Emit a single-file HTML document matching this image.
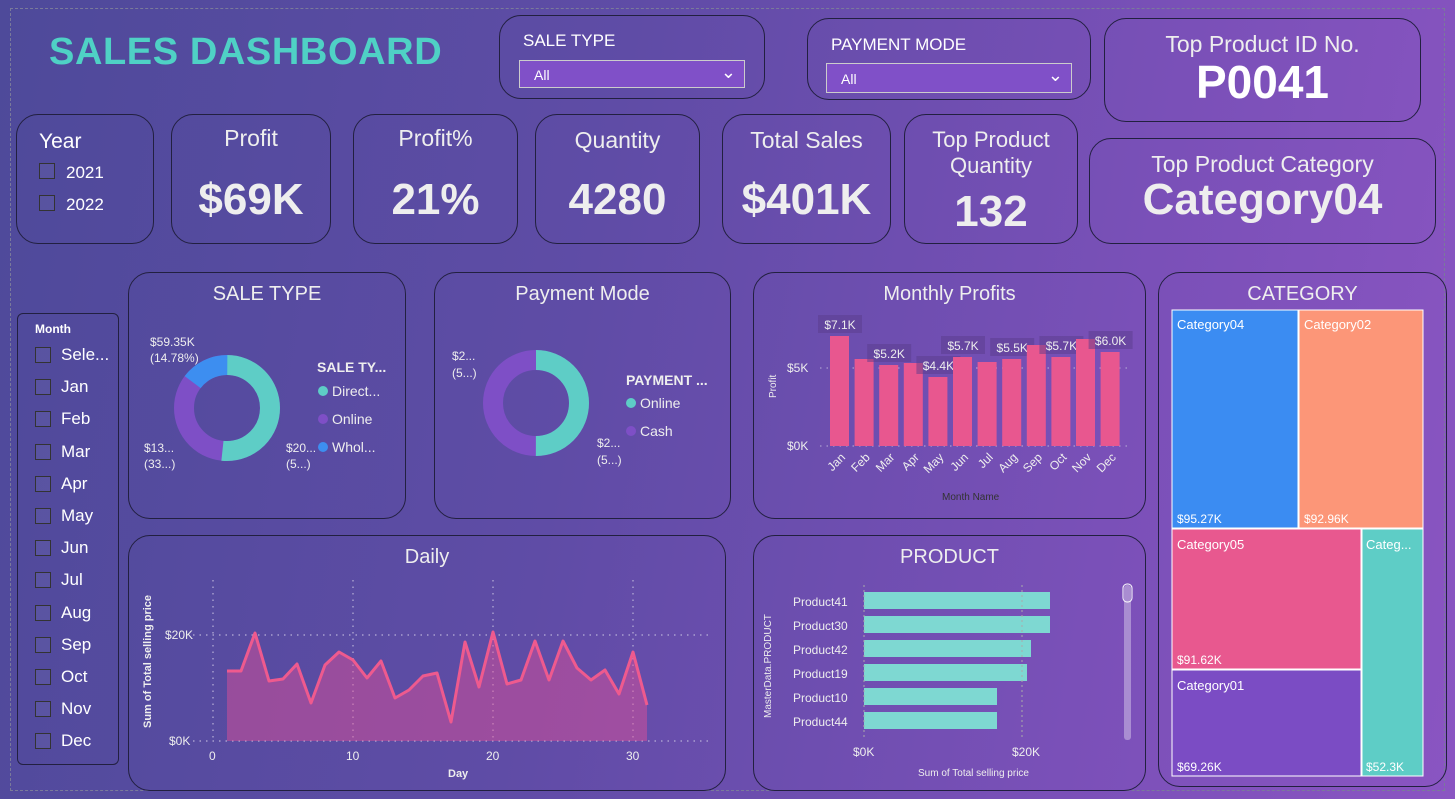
<!DOCTYPE html>
<html><head><meta charset="utf-8"><style>
*{box-sizing:border-box;margin:0;padding:0}
body{width:1455px;height:799px;overflow:hidden;font-family:"Liberation Sans",sans-serif;color:#fff;
background:linear-gradient(100deg,#4e4a9a 0%,#5f4ca6 40%,#7a50b8 75%,#8a55c2 100%);position:relative}
.b{position:absolute;border:1.5px solid #222040;border-radius:22px}
.t{position:absolute;text-align:center;width:100%;color:#eee}
.a{position:absolute}
.cb{position:absolute;width:16px;height:16px;border:1px solid #333;background:rgba(255,255,255,0.05)}
</style></head><body>
<div class="a" style="left:10px;top:8px;right:10px;bottom:8px;border:1px dashed #7a7a9a"></div>
<div class="a" style="left:49px;top:31px;font-size:38px;font-weight:bold;color:#4fd1c5;letter-spacing:0.6px">SALES DASHBOARD</div>

<div class="b" style="left:499px;top:15px;width:266px;height:84px"></div>
<div class="a" style="left:523px;top:31px;font-size:17px">SALE TYPE</div>
<div class="a" style="left:519px;top:60px;width:226px;height:28px;border:1px solid #ccc;background:#8050c8;font-size:14px;padding:6px 14px">All<span style="position:absolute;right:8px;top:1px;font-size:18px">⌄</span></div>
<div class="b" style="left:807px;top:18px;width:284px;height:82px"></div>
<div class="a" style="left:831px;top:35px;font-size:17px">PAYMENT MODE</div>
<div class="a" style="left:826px;top:63px;width:246px;height:30px;border:1px solid #ccc;background:#8050c8;font-size:14px;padding:7px 14px">All<span style="position:absolute;right:8px;top:1px;font-size:18px">⌄</span></div>
<div class="b" style="left:1104px;top:18px;width:317px;height:104px"><div class="t" style="top:12px;font-size:23px">Top Product ID No.</div><div class="t" style="top:36px;font-size:46px;font-weight:bold;color:#fff">P0041</div></div>

<div class="b" style="left:16px;top:114px;width:138px;height:130px"></div>
<div class="a" style="left:39px;top:130px;font-size:21px">Year</div>
<div class="cb" style="left:39px;top:163px"></div><div class="a" style="left:66px;top:163px;font-size:17px">2021</div>
<div class="cb" style="left:39px;top:195px"></div><div class="a" style="left:66px;top:195px;font-size:17px">2022</div>

<div class="b" style="left:171px;top:114px;width:160px;height:130px"><div class="t" style="top:10px;font-size:23px">Profit</div><div class="t" style="top:60px;font-size:44px;font-weight:bold">$69K</div></div>
<div class="b" style="left:353px;top:114px;width:165px;height:130px"><div class="t" style="top:10px;font-size:23px">Profit%</div><div class="t" style="top:60px;font-size:44px;font-weight:bold">21%</div></div>
<div class="b" style="left:535px;top:114px;width:165px;height:130px"><div class="t" style="top:12px;font-size:23px">Quantity</div><div class="t" style="top:60px;font-size:44px;font-weight:bold">4280</div></div>
<div class="b" style="left:722px;top:114px;width:169px;height:130px"><div class="t" style="top:12px;font-size:23px">Total Sales</div><div class="t" style="top:60px;font-size:44px;font-weight:bold">$401K</div></div>
<div class="b" style="left:904px;top:114px;width:174px;height:130px"><div class="t" style="top:12px;font-size:22px;line-height:26px">Top Product<br>Quantity</div><div class="t" style="top:72px;font-size:44px;font-weight:bold">132</div></div>
<div class="b" style="left:1089px;top:138px;width:347px;height:106px"><div class="t" style="top:12px;font-size:23px">Top Product Category</div><div class="t" style="top:36px;font-size:44px;font-weight:bold">Category04</div></div>

<div class="b" style="left:17px;top:313px;width:102px;height:452px;border-radius:6px"></div>
<div class="a" style="left:35px;top:322px;font-size:12px;font-weight:bold">Month</div>
<div id="months"></div>

<div class="b" style="left:128px;top:272px;width:278px;height:247px"><div class="t" style="top:10px;font-size:20px">SALE TYPE</div></div>
<svg class="a" style="left:128px;top:272px" width="278" height="247">
<circle cx="99" cy="136" r="43" fill="none" stroke="#7e4fc6" stroke-width="20"/>
<circle cx="99" cy="136" r="43" fill="none" stroke="#5ecdc6" stroke-width="20" stroke-dasharray="139.5 270.2" transform="rotate(-90 99 136)"/>
<circle cx="99" cy="136" r="43" fill="none" stroke="#3d8ef0" stroke-width="20" stroke-dasharray="40 270.2" transform="rotate(-143 99 136)"/>
<g font-size="12" fill="#eee"><text x="22" y="74">$59.35K</text><text x="22" y="90">(14.78%)</text><text x="16" y="180">$13...</text><text x="16" y="196">(33...)</text><text x="158" y="180">$20...</text><text x="158" y="196">(5...)</text></g>
<g font-size="14" fill="#eee"><text x="189" y="100" font-weight="bold">SALE TY...</text>
<circle cx="195" cy="119" r="5" fill="#5ecdc6"/><text x="204" y="124">Direct...</text>
<circle cx="195" cy="147" r="5" fill="#7e4fc6"/><text x="204" y="152">Online</text>
<circle cx="195" cy="175" r="5" fill="#3d8ef0"/><text x="204" y="180">Whol...</text></g>
</svg>

<div class="b" style="left:434px;top:272px;width:297px;height:247px"><div class="t" style="top:10px;font-size:20px">Payment Mode</div></div>
<svg class="a" style="left:434px;top:272px" width="297" height="247">
<circle cx="102" cy="131" r="43" fill="none" stroke="#7e4fc6" stroke-width="20"/>
<circle cx="102" cy="131" r="43" fill="none" stroke="#5ecdc6" stroke-width="20" stroke-dasharray="135 270.2" transform="rotate(-90 102 131)"/>
<g font-size="12" fill="#eee"><text x="18" y="88">$2...</text><text x="18" y="105">(5...)</text><text x="163" y="175">$2...</text><text x="163" y="192">(5...)</text></g>
<g font-size="14" fill="#eee"><text x="192" y="113" font-weight="bold">PAYMENT ...</text>
<circle cx="197" cy="131" r="5" fill="#5ecdc6"/><text x="206" y="136">Online</text>
<circle cx="197" cy="159" r="5" fill="#7e4fc6"/><text x="206" y="164">Cash</text></g>
</svg>

<div class="b" style="left:753px;top:272px;width:393px;height:247px"><div class="t" style="top:10px;font-size:20px">Monthly Profits</div></div>
<svg class="a" style="left:0;top:0" width="1455" height="799" id="mp"></svg>

<div class="b" style="left:128px;top:535px;width:598px;height:256px"><div class="t" style="top:10px;font-size:20px">Daily</div></div>
<div class="b" style="left:753px;top:535px;width:393px;height:256px"><div class="t" style="top:10px;font-size:20px">PRODUCT</div></div>
<div class="b" style="left:1158px;top:272px;width:289px;height:515px"><div class="t" style="top:10px;font-size:20px">CATEGORY</div></div>
<svg class="a" style="left:0;top:0" width="1455" height="799">
<g font-size="13" fill="#fff">
<rect x="1172" y="310" width="126" height="218" fill="#3b8cf2" stroke="#fff"/><text x="1177" y="329">Category04</text><text x="1177" y="523" font-size="12">$95.27K</text>
<rect x="1299" y="310" width="124" height="218" fill="#fc9678" stroke="#fff"/><text x="1304" y="329">Category02</text><text x="1304" y="523" font-size="12">$92.96K</text>
<rect x="1172" y="529" width="189" height="140" fill="#e8588f" stroke="#fff"/><text x="1177" y="549">Category05</text><text x="1177" y="664" font-size="12">$91.62K</text>
<rect x="1172" y="670" width="189" height="106" fill="#7b4cc4" stroke="#fff"/><text x="1177" y="690">Category01</text><text x="1177" y="771" font-size="12">$69.26K</text>
<rect x="1362" y="529" width="61" height="247" fill="#5ecdc6" stroke="#fff"/><text x="1366" y="549">Categ...</text><text x="1366" y="771" font-size="12">$52.3K</text>
</g>
<g font-size="12" fill="#eee">
<text x="771" y="718" transform="rotate(-90 771 718)" font-size="10">MasterData.PRODUCT</text>
<text x="793" y="606">Product41</text><rect x="864" y="592" width="186" height="17" fill="#7ed8d2"/>
<text x="793" y="630">Product30</text><rect x="864" y="616" width="186" height="17" fill="#7ed8d2"/>
<text x="793" y="654">Product42</text><rect x="864" y="640" width="167" height="17" fill="#7ed8d2"/>
<text x="793" y="678">Product19</text><rect x="864" y="664" width="163" height="17" fill="#7ed8d2"/>
<text x="793" y="702">Product10</text><rect x="864" y="688" width="133" height="17" fill="#7ed8d2"/>
<text x="793" y="726">Product44</text><rect x="864" y="712" width="133" height="17" fill="#7ed8d2"/>
<text x="853" y="756">$0K</text><text x="1012" y="756">$20K</text>
<text x="918" y="776" font-size="10">Sum of Total selling price</text>
</g>
<line x1="864" y1="585" x2="864" y2="740" stroke="#aaa" stroke-dasharray="2 3"/><line x1="1022" y1="585" x2="1022" y2="740" stroke="#aaa" stroke-dasharray="2 3"/>
<rect x="1124" y="585" width="7" height="155" rx="3" fill="rgba(255,255,255,0.35)"/><rect x="1123" y="584" width="9" height="18" rx="4" fill="none" stroke="#fff"/>
<g stroke="#b8b0d8" stroke-dasharray="1.5 5" stroke-width="1.2">
<line x1="193" y1="635" x2="712" y2="635"/><line x1="193" y1="741" x2="712" y2="741"/>
<line x1="213" y1="580" x2="213" y2="741"/><line x1="353" y1="580" x2="353" y2="741"/><line x1="493" y1="580" x2="493" y2="741"/><line x1="633" y1="580" x2="633" y2="741"/>
</g>
<polygon id="dfill" fill="rgba(230,80,150,0.45)"/>
<polyline id="dline" fill="none" stroke="#ee5a8e" stroke-width="3" stroke-linejoin="round"/>
<g font-size="12" fill="#eee"><text x="165" y="639">$20K</text><text x="169" y="745">$0K</text>
<text x="209" y="760">0</text><text x="346" y="760">10</text><text x="486" y="760">20</text><text x="626" y="760">30</text>
<text x="448" y="777" font-size="11" font-weight="bold">Day</text>
<text x="151" y="728" transform="rotate(-90 151 728)" font-size="11" font-weight="bold">Sum of Total selling price</text></g>
</svg>
<script>
var ys=[671,671,633,681,679,664,703,665,652,660,678,661,698,690,676,673,722,642,687,632,684,680,641,680,641,668,680,670,694,652,705];
var p=ys.map(function(y,i){return (213+14*(i+1))+","+y}).join(" ");
document.getElementById("dline").setAttribute("points",p);
document.getElementById("dfill").setAttribute("points",p+" 647,741 227,741");
var m=["Jan","Feb","Mar","Apr","May","Jun","Jul","Aug","Sep","Oct","Nov","Dec"];
var tops=[336,359,365,363,377,357,362,359,345,357,339,352];
var lab={0:"$7.1K",2:"$5.2K",4:"$4.4K",5:"$5.7K",7:"$5.5K",9:"$5.7K",11:"$6.0K"};
var s='<g stroke="#b8b0d8" stroke-dasharray="1.5 5"><line x1="820" y1="368" x2="1130" y2="368"/><line x1="820" y1="446" x2="1130" y2="446"/></g>';
s+='<g font-size="12" fill="#eee"><text x="787" y="372">$5K</text><text x="787" y="450">$0K</text><text x="776" y="398" transform="rotate(-90 776 398)" font-size="10">Profit</text><text x="942" y="500" font-size="10" fill="#333">Month Name</text>';
for(var i=0;i<12;i++){var x=830+24.6*i;
s+='<rect x="'+x+'" y="'+tops[i]+'" width="19" height="'+(446-tops[i])+'" fill="#e8578f"/>';
s+='<text x="'+(x+16)+'" y="458" transform="rotate(-45 '+(x+16)+' 458)" text-anchor="end">'+m[i]+'</text>';
if(lab[i]){s+='<rect x="'+(x-12)+'" y="'+(tops[i]-21)+'" width="44" height="18" fill="rgba(90,60,140,0.5)"/><text x="'+(x+10)+'" y="'+(tops[i]-7)+'" text-anchor="middle">'+lab[i]+'</text>';}}
s+='</g>';document.getElementById("mp").innerHTML=s;
var h="",ms=["Sele...","Jan","Feb","Mar","Apr","May","Jun","Jul","Aug","Sep","Oct","Nov","Dec"];
for(var j=0;j<13;j++){var y=347+32.2*j;h+='<div class="cb" style="left:35px;top:'+y+'px"></div><div class="a" style="left:61px;top:'+(y-2)+'px;font-size:17px">'+ms[j]+'</div>';}
document.getElementById("months").innerHTML=h;
</script>
</body></html>
